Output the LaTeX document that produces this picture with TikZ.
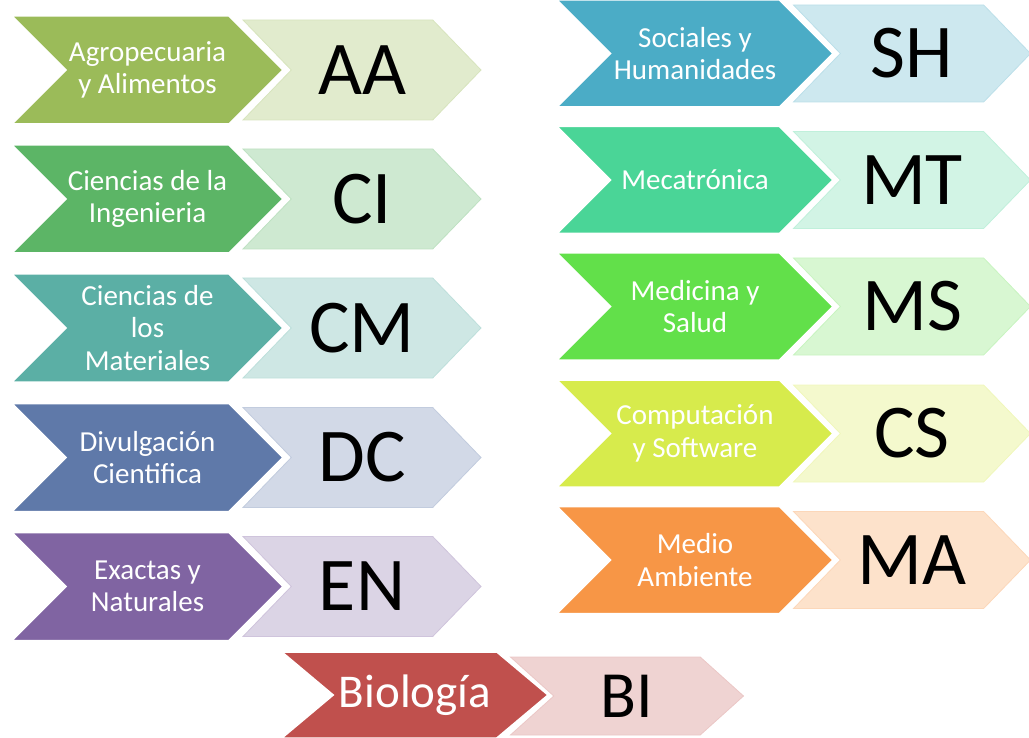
\documentclass[tikz,border=0pt]{standalone}
\usepackage{fontspec}
\setmainfont{Carlito}
\usetikzlibrary{shapes.symbols, positioning}
\definecolor{agrogreen}{HTML}{9BBB59}
\definecolor{ingegreen}{HTML}{5CB566}
\definecolor{matteal}{HTML}{5BAFA5}
\definecolor{divblue}{HTML}{5F79A9}
\definecolor{exapurple}{HTML}{8064A2}
\definecolor{socaqua}{HTML}{4BACC6}
\definecolor{mecmint}{HTML}{4AD597}
\definecolor{medlime}{HTML}{62E04A}
\definecolor{compyellow}{HTML}{D7EB4C}
\definecolor{ambiorange}{HTML}{F79646}
\definecolor{biored}{HTML}{C0504D}

\begin{document}
\begin{tikzpicture}[x=1pt, y=-1pt, font=\fontsize{29}{32.5}\selectfont]
    \tikzstyle{area} = [signal, signal from=west, signal to=east, signal pointer angle=90,
      minimum width=271pt, minimum height=108pt, inner sep=0pt, draw=white, line width=1.5pt,
      text=white, align=center]
    \tikzstyle{code} = [signal, signal from=west, signal to=east, signal pointer angle=92,
      minimum width=238pt, minimum height=100pt, inner sep=0pt, line width=0.8pt,
      font=\fontsize{76}{84}\selectfont]

    \useasboundingbox (0,0) rectangle (1029,738);

    % left column
    \node (aacode) [code, fill=agrogreen!30, draw=agrogreen!40] at (362,70) {AA};
    \node (aa) [area, fill=agrogreen] at (147.5,70) {Agropecuaria\\y Alimentos};
    \node (cicode) [code, fill=ingegreen!30, draw=ingegreen!40] at (362,199) {CI};
    \node (ci) [area, fill=ingegreen] at (147.5,199) {Ciencias de la\\Ingenieria};
    \node (cmcode) [code, fill=matteal!30, draw=matteal!40] at (362,328) {CM};
    \node (cm) [area, fill=matteal] at (147.5,328) {Ciencias de\\los\\Materiales};
    \node (dccode) [code, fill=divblue!28, draw=divblue!38] at (362,457.5) {DC};
    \node (dc) [area, fill=divblue] at (147.5,457.5) {Divulgación\\Cientifica};
    \node (encode) [code, fill=exapurple!28, draw=exapurple!38] at (362,586.5) {EN};
    \node (en) [area, fill=exapurple] at (147.5,586.5) {Exactas y\\Naturales};

    % right column
    \node (shcode) [code, fill=socaqua!28, draw=socaqua!38, minimum width=237pt, minimum height=97pt] at (912,53.5) {SH};
    \node (sh) [area, fill=socaqua, minimum width=276pt, minimum height=107pt] at (695,53.5) {Sociales y\\Humanidades};
    \node (mtcode) [code, fill=mecmint!25, draw=mecmint!35, minimum width=237pt, minimum height=97pt] at (912,180) {MT};
    \node (mt) [area, fill=mecmint, minimum width=276pt, minimum height=107pt] at (695,180) {Mecatrónica};
    \node (mscode) [code, fill=medlime!25, draw=medlime!35, minimum width=237pt, minimum height=97pt] at (912,306.5) {MS};
    \node (ms) [area, fill=medlime, minimum width=276pt, minimum height=107pt] at (695,306.5) {Medicina y\\Salud};
    \node (cscode) [code, fill=compyellow!28, draw=compyellow!38, minimum width=237pt, minimum height=97pt] at (912,433.5) {CS};
    \node (cs) [area, fill=compyellow, minimum width=276pt, minimum height=107pt] at (695,433.5) {Computación\\y Software};
    \node (macode) [code, fill=ambiorange!28, draw=ambiorange!38, minimum width=237pt, minimum height=97pt] at (912,560) {MA};
    \node (ma) [area, fill=ambiorange, minimum width=276pt, minimum height=107pt] at (695,560) {Medio\\Ambiente};

    % bottom
    \node (bicode) [code, fill=biored!25, draw=biored!32, minimum width=233pt, minimum height=78pt,
      signal pointer angle=84, font=\fontsize{66}{72}\selectfont] at (627,696) {BI};
    \node (bi) [area, fill=biored, minimum width=266pt, minimum height=86pt, signal pointer angle=80,
      font=\fontsize{47}{52}\selectfont] at (415,695) {Biología};
\end{tikzpicture}
\end{document}
